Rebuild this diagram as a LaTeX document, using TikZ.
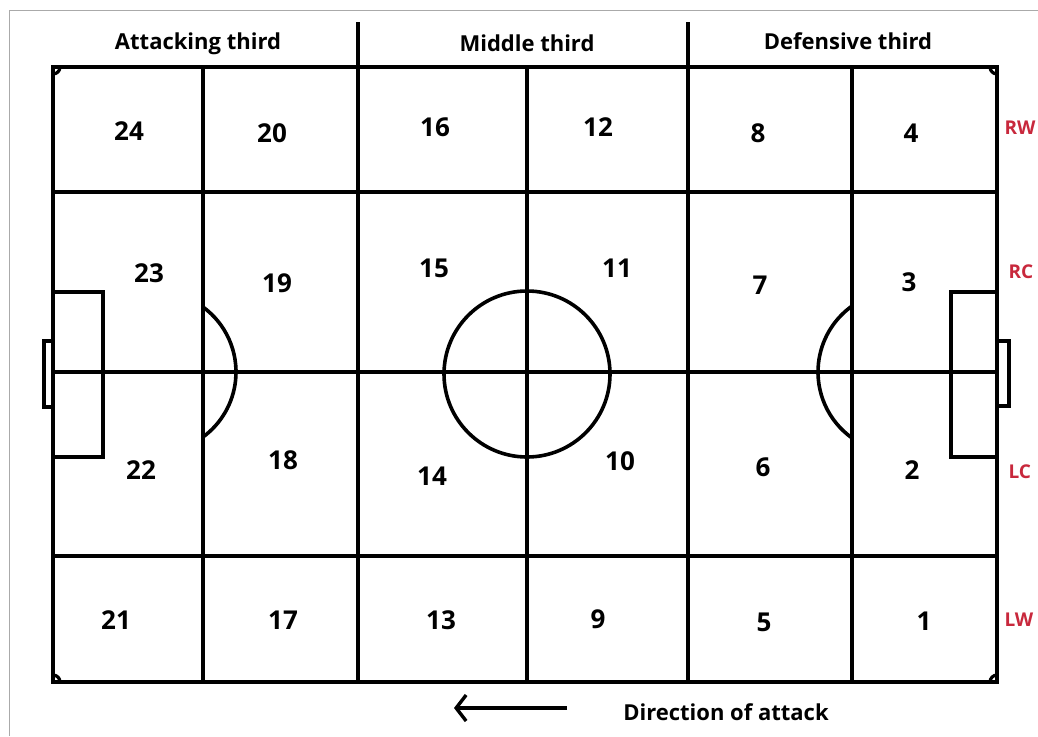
\documentclass[tikz,border=0pt]{standalone}
\usepackage{fontspec}
\setmainfont{Open Sans}
\usetikzlibrary{arrows.meta}
\definecolor{lblred}{RGB}{200,40,60}
\definecolor{framegray}{RGB}{170,170,170}
\begin{document}
\begin{tikzpicture}[x=1pt,y=-1pt,
  fieldline/.style={line width=3.6pt,black},
  thinline/.style={line width=3.2pt,black},
  zone/.style={font=\fontsize{26}{30}\selectfont\bfseries},
  heading/.style={font=\fontsize{22}{26}\selectfont\bfseries},
  side/.style={font=\fontsize{19}{22}\selectfont\bfseries,text=lblred},
]
\useasboundingbox (0,0) rectangle (1038,736);
\fill[white] (0,0) rectangle (1038,736);
% thin frame
\draw[framegray,line width=1pt] (9,736) -- (9,10) -- (1038,10);
% field outline
\draw[fieldline] (53,67) rectangle (997,682);
% horizontal lines
\draw[fieldline] (53,192) -- (997,192);
\draw[fieldline] (53,556) -- (997,556);
\draw[fieldline] (53,372) -- (995,372);
% vertical lines
\draw[fieldline] (203,67) -- (203,682);
\draw[fieldline] (358,22) -- (358,682);
\draw[fieldline] (527,67) -- (527,682);
\draw[fieldline] (688,22) -- (688,682);
\draw[fieldline] (852,67) -- (852,682);
% penalty boxes
\draw[fieldline] (53,292) -- (103,292) -- (103,457) -- (53,457);
\draw[fieldline] (997,292) -- (951,292) -- (951,457) -- (997,457);
% goals
\draw[thinline] (53,341) -- (44,341) -- (44,407) -- (53,407);
\draw[thinline] (997,341) -- (1009,341) -- (1009,406) -- (997,406);
% arcs
\draw[fieldline] (155.5,372) ++(-54:80.5) arc[start angle=-54,end angle=54,radius=80.5];
\draw[fieldline] (899,372) ++(126:81) arc[start angle=126,end angle=234,radius=81];
% centre circle
\draw[fieldline] (527,374) circle[radius=83];
% corner arcs
\draw[thinline] (60,67) arc[start angle=0,end angle=90,radius=7];
\draw[thinline] (990,67) arc[start angle=180,end angle=90,radius=7];
\draw[thinline] (60,682) arc[start angle=0,end angle=-90,radius=7];
\draw[thinline] (990,682) arc[start angle=180,end angle=270,radius=7];
% headings
\node[heading] (hatt) at (198,44) {Attacking third};
\node[heading] (hmid) at (527,43) {Middle third};
\node[heading] (hdef) at (848,41) {Defensive third};
% zone numbers
\node[zone] (z24) at (129,131) {24};
\node[zone] (z20) at (272,133) {20};
\node[zone] (z16) at (435,127) {16};
\node[zone] (z12) at (598,127) {12};
\node[zone] (z8) at (758,133) {8};
\node[zone] (z4) at (911,133) {4};
\node[zone] (z23) at (149,273) {23};
\node[zone] (z19) at (277,283) {19};
\node[zone] (z15) at (434,268) {15};
\node[zone] (z11) at (617,268) {11};
\node[zone] (z7) at (760,285) {7};
\node[zone] (z3) at (909,282) {3};
\node[zone] (z22) at (141,470) {22};
\node[zone] (z18) at (283,460) {18};
\node[zone] (z14) at (432,476) {14};
\node[zone] (z10) at (620,461) {10};
\node[zone] (z6) at (763,467) {6};
\node[zone] (z2) at (912,470) {2};
\node[zone] (z21) at (116,620) {21};
\node[zone] (z17) at (283,620) {17};
\node[zone] (z13) at (441,620) {13};
\node[zone] (z9) at (598,619) {9};
\node[zone] (z5) at (764,622) {5};
\node[zone] (z1) at (924,621) {1};
% side labels
\node[side,anchor=west] (rw) at (1001,128) {RW};
\node[side,anchor=west] (rc) at (1005,272) {RC};
\node[side,anchor=west] (lc) at (1005,472) {LC};
\node[side,anchor=west] (lw) at (1001,620) {LW};
% direction of attack
\coordinate (arrS) at (567,708);
\coordinate (arrE) at (454,708);
\draw[line width=3.4pt,-{Straight Barb[length=10pt,width=26pt,line width=3.4pt]}] (arrS) -- (arrE);
\node[heading] (dir) at (726,712) {Direction of attack};
\end{tikzpicture}
\end{document}
